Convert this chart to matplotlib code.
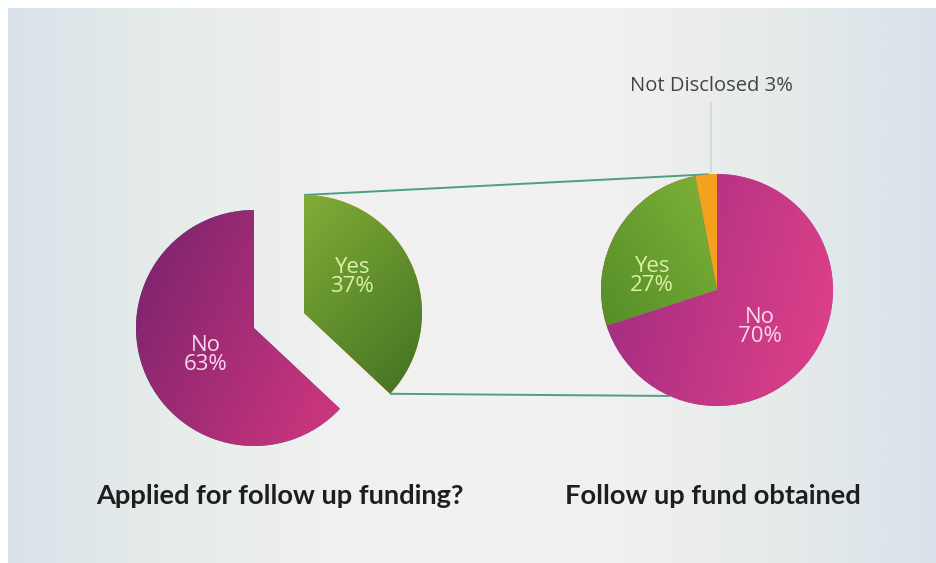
import numpy as np
import matplotlib
matplotlib.use("Agg")
import matplotlib.pyplot as plt
from matplotlib.colors import LinearSegmentedColormap

# survey answers
applied_labels = ["No", "Yes"]
applied_values = [63, 37]
obtained_labels = ["Not Disclosed", "Yes", "No"]
obtained_values = [3, 27, 70]
titles = ["Applied for follow up funding?", "Follow up fund obtained"]

W, H = 937, 563


def Y(y):
    # pixel rows measured from the top -> data y
    return H - y


def shade(ax, patch, c1, c2, angle, cx, cy, r):
    # fill a wedge with a linear gradient clipped to its outline
    n = 200
    xs = np.linspace(-1, 1, n)
    gx, gy = np.meshgrid(xs, xs)
    a = np.deg2rad(angle)
    t = (gx * np.cos(a) + gy * np.sin(a)) / np.sqrt(2) * 0.5 + 0.5
    cmap = LinearSegmentedColormap.from_list("g", [c1, c2])
    im = ax.imshow(t, cmap=cmap, extent=(cx - r, cx + r, cy - r, cy + r),
                   origin="lower", vmin=0, vmax=1, zorder=2,
                   interpolation="bilinear")
    im.set_clip_path(patch)


fig = plt.figure(figsize=(W / 100, H / 100), dpi=100)
fig.patch.set_facecolor("white")
ax = fig.add_axes([0, 0, 1, 1])

# soft grey background, bluish towards the sides
bg = LinearSegmentedColormap.from_list(
    "bg", ["#d9e2ea", "#e6ece9", "#eff0ef", "#f2f2f2", "#f0f0f0", "#e6ebea", "#d9e2ea"])
ax.imshow(np.linspace(0, 1, 400)[None, :], cmap=bg, aspect="auto",
          extent=(8, W, 0, H - 8), zorder=0, interpolation="bilinear")

# left pie: applied for follow up funding
lcx, lcy, lr = 254, Y(328), 118
lw, _ = ax.pie(applied_values, center=(lcx, lcy), radius=lr, startangle=90,
               counterclock=True, wedgeprops=dict(linewidth=0), frame=True)
yes_c = (304, Y(313))
lw[1].set_center(yes_c)
shade(ax, lw[0], "#74226c", "#de3a82", -25, lcx, lcy, lr)
shade(ax, lw[1], "#97c43c", "#3b6a22", -45, yes_c[0], yes_c[1], lr)

# right pie: follow up fund obtained
rcx, rcy, rr = 717, Y(290), 116
rw, _ = ax.pie(obtained_values, center=(rcx, rcy), radius=rr, startangle=90,
               counterclock=True, wedgeprops=dict(linewidth=0), frame=True)
shade(ax, rw[0], "#f7b62a", "#f18a12", 0, rcx, rcy, rr)
shade(ax, rw[1], "#4a8427", "#95c63c", 35, rcx, rcy, rr)
shade(ax, rw[2], "#962880", "#e8448a", -15, rcx, rcy, rr)

ax.set_xlim(0, W)
ax.set_ylim(0, H)
ax.set_aspect("equal")
ax.axis("off")

# connector lines from the exploded slice to the second pie
w = lw[1]
t1, t2 = np.deg2rad(w.theta1), np.deg2rad(w.theta2)
p_top = (yes_c[0] + lr * np.cos(t2), yes_c[1] + lr * np.sin(t2))
p_bot = (yes_c[0] + lr * np.cos(t1), yes_c[1] + lr * np.sin(t1))
q_top = (rcx + rr * np.cos(np.deg2rad(94)), rcy + rr * np.sin(np.deg2rad(94)))
q_bot = (rcx + rr * np.cos(np.deg2rad(246)), rcy + rr * np.sin(np.deg2rad(246)))
for p, q in [(p_top, q_top), (p_bot, q_bot)]:
    ax.plot([p[0], q[0]], [p[1], q[1]], color="#4e9e86", lw=1.4, zorder=1,
            solid_capstyle="butt")

# slice labels
lab_font = dict(family="Open Sans", fontsize=16, ha="center", va="center",
                linespacing=0.92, zorder=5)
ax.text(206, Y(355), f"{applied_labels[0]}\n{applied_values[0]}%",
        color="#f6d9ea", **lab_font)
ax.text(352, Y(277), f"{applied_labels[1]}\n{applied_values[1]}%",
        color="#dcefa8", **lab_font)
ax.text(652, Y(276), f"{obtained_labels[1]}\n{obtained_values[1]}%",
        color="#dcefa8", **lab_font)
ax.text(760, Y(327), f"{obtained_labels[2]}\n{obtained_values[2]}%",
        color="#f6d9ea", **lab_font)

# callout for the tiny slice
ax.plot([711, 711], [Y(103), Y(172)], color="#d6d9d9", lw=1.5, zorder=1)
ax.text(711, Y(86), f"{obtained_labels[0]} {obtained_values[0]}%",
        family="Open Sans", fontsize=14.5, color="#444444",
        ha="center", va="center", zorder=5)

# titles under each pie
ttl = dict(family="Lato", fontsize=19.6, fontweight="bold", color="#1e1e1e",
           ha="center", va="center")
ax.text(280, Y(496), titles[0], **ttl)
ax.text(713, Y(496), titles[1], **ttl)

fig.savefig("out.png", dpi=100, facecolor=fig.get_facecolor())
